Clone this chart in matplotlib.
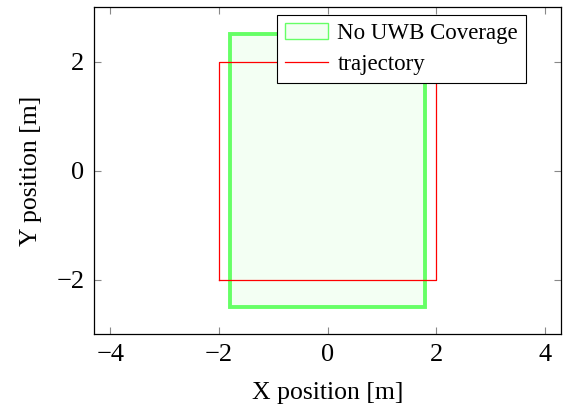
import matplotlib.pyplot as plt
from matplotlib.patches import Rectangle, Patch
from matplotlib.lines import Line2D

plt.rcParams['font.family'] = ['Liberation Serif', 'DejaVu Serif']
plt.rcParams['mathtext.fontset'] = 'stix'

# region without UWB coverage: corner and size
gap_x, gap_y = -1.8, -2.5
gap_w, gap_h = 3.6, 5.0

# square trajectory corners
traj_x = [-2, 2, 2, -2, -2]
traj_y = [-2, -2, 2, 2, -2]

xticks = [-4, -2, 0, 2, 4]
yticks = [-2, 0, 2]

green_edge = '#66ff66'
green_fill = (0.4, 1.0, 0.4, 0.08)

fig = plt.figure(figsize=(5.63, 4.08), dpi=100)
ax = fig.add_axes([94/563, 1 - 334/408, 467/563, 327/408])

gap = Rectangle((gap_x, gap_y), gap_w, gap_h, facecolor=green_fill,
                edgecolor=green_edge, linewidth=2.8, zorder=2)
ax.add_patch(gap)
ax.plot(traj_x, traj_y, color='red', linewidth=0.9, zorder=3)

ax.set_xlim(-4.3, 4.3)
ax.set_ylim(-3.0, 3.0)
ax.set_xticks(xticks)
ax.set_yticks(yticks)
ax.set_xticklabels(['\u2212%d' % -v if v < 0 else '%d' % v for v in xticks])
ax.set_yticklabels(['\u2212%d' % -v if v < 0 else '%d' % v for v in yticks])
ax.tick_params(direction='in', length=5, width=0.8, color='#888888',
               labelsize=19, top=True, right=True, pad=7)
for s in ax.spines.values():
    s.set_linewidth(0.9)

ax.set_xlabel('X position [m]', fontsize=18.5, labelpad=12)
ax.set_ylabel('Y position [m]', fontsize=18.5, labelpad=10)

# legend entries with thin outline
handles = [Patch(facecolor=green_fill, edgecolor=green_edge, linewidth=1.0),
           Line2D([], [], color='red', linewidth=0.9)]
labels = ['No UWB Coverage', 'trajectory']
leg = ax.legend(handles, labels, loc='upper right', bbox_to_anchor=(0.925, 0.976),
                fontsize=16.5, fancybox=False, framealpha=1, edgecolor='black',
                handlelength=1.9, handletextpad=0.4, borderpad=0.35,
                labelspacing=0.45, borderaxespad=0)
leg.get_frame().set_linewidth(0.8)

fig.savefig('out.png', dpi=100)
